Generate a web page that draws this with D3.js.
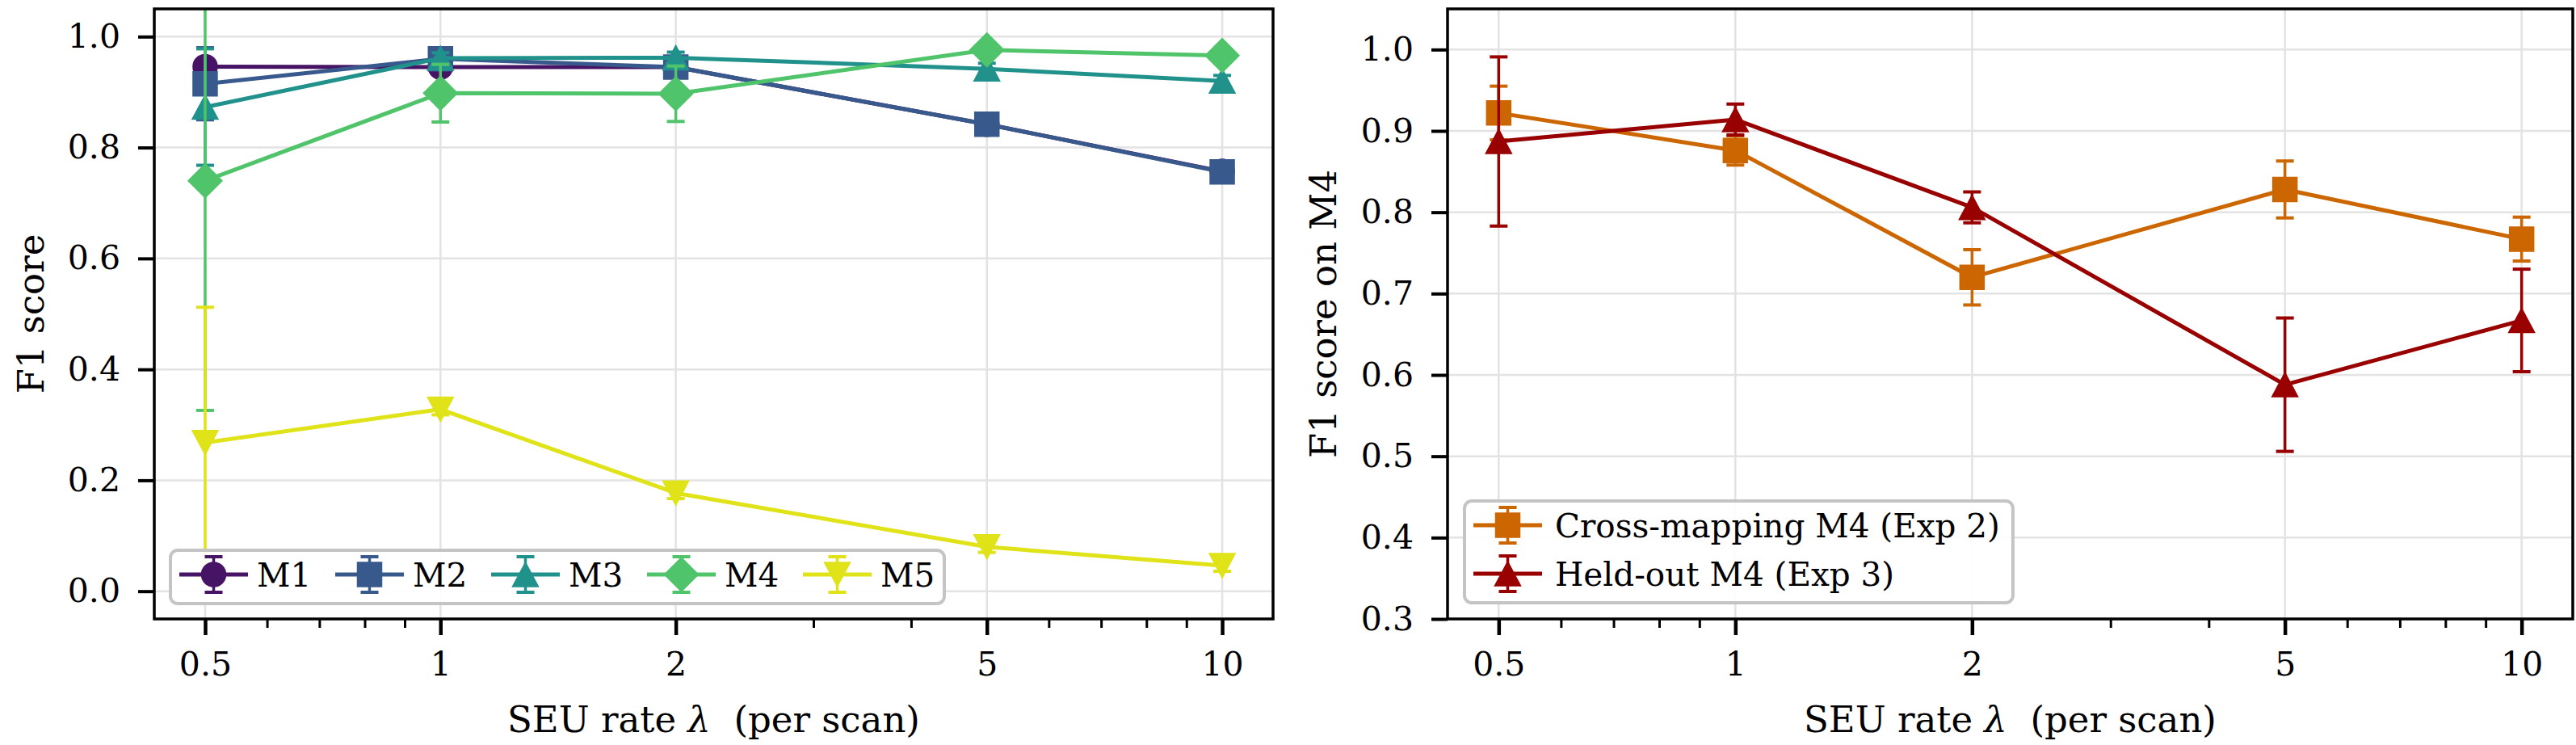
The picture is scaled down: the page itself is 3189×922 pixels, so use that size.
<!DOCTYPE html>
<html>
<head>
<meta charset="UTF-8">
<title></title>
<style>
  body { margin: 0; background: #fff; }
  text { font-family: "DejaVu Serif", serif; fill: #000; }
</style>
</head>
<body>
<script src="https://d3js.org/d3.v7.min.js"></script>
<script>
var width = 3189, height = 922;

// ---- data ----
var rates = [0.5, 1, 2, 5, 10];
var rateLabels = ["0.5", "1", "2", "5", "10"];
var minorRates = [0.6, 0.7, 0.8, 0.9, 3, 4, 6, 7, 8, 9];
var leftYTicks = [0.0, 0.2, 0.4, 0.6, 0.8, 1.0];
var rightYTicks = [0.3, 0.4, 0.5, 0.6, 0.7, 0.8, 0.9, 1.0];

var modelNames = ["M1", "M2", "M3", "M4", "M5"];
var m1 = [0.946, 0.945, 0.945, 0.842, 0.757];
var m1Err = [0, 0, 0, 0, 0];
var m2 = [0.915, 0.960, 0.945, 0.842, 0.756];
var m2Err = [0.065, 0.01, 0.01, 0.01, 0.01];
var m3 = [0.873, 0.961, 0.962, 0.942, 0.920];
var m3Err = [0.105, 0.01, 0.01, 0.01, 0.01];
var m4 = [0.740, 0.898, 0.897, 0.976, 0.966];
var m4Err = [0.414, 0.052, 0.050, 0.01, 0.01];
var m5 = [0.268, 0.328, 0.177, 0.080, 0.046];
var m5Err = [0.244, 0.01, 0.01, 0.01, 0.01];

var expNames = ["Cross-mapping M4 (Exp 2)", "Held-out M4 (Exp 3)"];
var cross = [0.922, 0.876, 0.720, 0.828, 0.767];
var crossErr = [0.033, 0.018, 0.034, 0.035, 0.027];
var held = [0.887, 0.914, 0.806, 0.588, 0.667];
var heldErr = [0.104, 0.019, 0.019, 0.082, 0.063];

// ---- styles ----
var viridisT = [0.05, 0.275, 0.5, 0.725, 0.95];
var leftSeries = [
  {name: modelNames[0], y: m1, err: m1Err, shape: "circle"},
  {name: modelNames[1], y: m2, err: m2Err, shape: "square"},
  {name: modelNames[2], y: m3, err: m3Err, shape: "triUp"},
  {name: modelNames[3], y: m4, err: m4Err, shape: "diamond"},
  {name: modelNames[4], y: m5, err: m5Err, shape: "triDown"}
];
leftSeries.forEach(function(s, i) { s.color = d3.interpolateViridis(viridisT[i]); });
var rightSeries = [
  {name: expNames[0], y: cross, err: crossErr, shape: "square", color: "#cc6600"},
  {name: expNames[1], y: held, err: heldErr, shape: "triUp", color: "#990000"}
];

var svg = d3.select("body").append("svg")
  .attr("width", width)
  .attr("height", height);

function markerPath(shape) {
  if (shape === "circle") return "M-15,0a15,15 0 1,0 30,0a15,15 0 1,0 -30,0Z";
  if (shape === "square") return "M-15,-15H15V15H-15Z";
  if (shape === "triUp") return "M0,-15L16,15H-16Z";
  if (shape === "triDown") return "M0,15L16,-15H-16Z";
  if (shape === "diamond") return "M0,-21L21,0L0,21L-21,0Z";
}

function drawPanel(id, x0, x1, yDomain, yTicks, series, yLabel, yLabelX) {
  var y0 = 11, y1 = 766;
  var pad = Math.pow(20, 0.05);
  var x = d3.scaleLog().domain([0.5 / pad, 10 * pad]).range([x0, x1]);
  var y = d3.scaleLinear().domain(yDomain).range([y1, y0]);
  var g = svg.append("g");

  svg.append("clipPath").attr("id", id)
    .append("rect").attr("x", x0).attr("y", y0).attr("width", x1 - x0).attr("height", y1 - y0);

  // grid
  g.selectAll(".gx").data(rates).enter().append("line")
    .attr("x1", d => x(d)).attr("x2", d => x(d)).attr("y1", y0).attr("y2", y1)
    .attr("stroke", "#e3e3e3").attr("stroke-width", 2.5);
  g.selectAll(".gy").data(yTicks).enter().append("line")
    .attr("x1", x0).attr("x2", x1).attr("y1", d => y(d)).attr("y2", d => y(d))
    .attr("stroke", "#e3e3e3").attr("stroke-width", 2.5);

  // series
  var plot = g.append("g").attr("clip-path", "url(#" + id + ")");
  var line = d3.line().x((d, i) => x(rates[i])).y(d => y(d));
  series.forEach(function(s) {
    var sg = plot.append("g");
    s.y.forEach(function(v, i) {
      var cx = x(rates[i]), lo = y(v - s.err[i]), hi = y(v + s.err[i]);
      sg.append("line").attr("x1", cx).attr("x2", cx).attr("y1", lo).attr("y2", hi)
        .attr("stroke", s.color).attr("stroke-width", 3.5);
      [lo, hi].forEach(function(cy) {
        sg.append("line").attr("x1", cx - 11).attr("x2", cx + 11).attr("y1", cy).attr("y2", cy)
          .attr("stroke", s.color).attr("stroke-width", 4);
      });
    });
    sg.append("path").attr("d", line(s.y)).attr("fill", "none")
      .attr("stroke", s.color).attr("stroke-width", 5).attr("stroke-linejoin", "round");
    sg.selectAll(".mk").data(s.y).enter().append("path")
      .attr("d", markerPath(s.shape))
      .attr("transform", (d, i) => "translate(" + x(rates[i]) + "," + y(d) + ")")
      .attr("fill", s.color).attr("stroke", s.color).attr("stroke-width", 1.5);
  });

  // axes
  var xAxis = g.append("g").attr("transform", "translate(0," + y1 + ")")
    .call(d3.axisBottom(x).tickValues(rates).tickFormat((d, i) => rateLabels[i])
      .tickSizeInner(20).tickSizeOuter(0).tickPadding(21));
  var xMinor = g.append("g").attr("transform", "translate(0," + y1 + ")")
    .call(d3.axisBottom(x).tickValues(minorRates).tickFormat("").tickSizeInner(11).tickSizeOuter(0));
  var yAxis = g.append("g").attr("transform", "translate(" + x0 + ",0)")
    .call(d3.axisLeft(y).tickValues(yTicks).tickFormat(d3.format(".1f"))
      .tickSizeInner(20).tickSizeOuter(0).tickPadding(22));
  [xAxis, xMinor, yAxis].forEach(function(a) {
    a.select(".domain").remove();
    a.selectAll("text").attr("font-size", 41).attr("font-family", "DejaVu Serif");
  });
  xAxis.selectAll("line").attr("stroke-width", 4.5);
  yAxis.selectAll("line").attr("stroke-width", 4);
  xMinor.selectAll("line").attr("stroke-width", 3);

  g.append("rect").attr("x", x0).attr("y", y0).attr("width", x1 - x0).attr("height", y1 - y0)
    .attr("fill", "none").attr("stroke", "#000").attr("stroke-width", 3.5);

  // labels
  var xl = g.append("text").attr("x", (x0 + x1) / 2).attr("y", 906)
    .attr("text-anchor", "middle").attr("font-size", 45).attr("xml:space", "preserve");
  xl.append("tspan").text("SEU rate ");
  xl.append("tspan").attr("font-style", "italic").text("λ");
  xl.append("tspan").text("  (per scan)");
  g.append("text").attr("transform", "translate(" + yLabelX + "," + ((y0 + y1) / 2) + ") rotate(-90)")
    .attr("text-anchor", "middle").attr("font-size", 45).text(yLabel);

  return g;
}

function drawHandle(g, s, hx, cy) {
  g.append("line").attr("x1", hx).attr("x2", hx + 85).attr("y1", cy).attr("y2", cy)
    .attr("stroke", s.color).attr("stroke-width", 5);
  var mx = hx + 42.5;
  g.append("line").attr("x1", mx).attr("x2", mx).attr("y1", cy - 22).attr("y2", cy + 22)
    .attr("stroke", s.color).attr("stroke-width", 3.5);
  [cy - 22, cy + 22].forEach(function(c) {
    g.append("line").attr("x1", mx - 11).attr("x2", mx + 11).attr("y1", c).attr("y2", c)
      .attr("stroke", s.color).attr("stroke-width", 4);
  });
  g.append("path").attr("d", markerPath(s.shape)).attr("transform", "translate(" + mx + "," + cy + ")")
    .attr("fill", s.color).attr("stroke", s.color).attr("stroke-width", 1.5);
}

// left panel
var gl = drawPanel("clipL", 191, 1576, [-0.05, 1.05], leftYTicks, leftSeries, "F1 score", 54);
var legL = gl.append("g");
legL.append("rect").attr("x", 211).attr("y", 681).attr("width", 958).attr("height", 66).attr("rx", 9)
  .attr("fill", "#fff").attr("fill-opacity", 0.9).attr("stroke", "#c4c4c4").attr("stroke-width", 4);
leftSeries.forEach(function(s, i) {
  var lx = 222 + i * 193;
  drawHandle(legL, s, lx, 711);
  legL.append("text").attr("x", lx + 96).attr("y", 711).attr("dy", "0.36em")
    .attr("font-size", 40.5).text(s.name);
});

// right panel
var gr = drawPanel("clipR", 1792, 3185, [0.3, 1.05], rightYTicks, rightSeries, "F1 score on M4", 1654);
var legR = gr.append("g");
var boxR = legR.append("rect").attr("x", 1813).attr("y", 620).attr("height", 126).attr("rx", 9)
  .attr("fill", "#fff").attr("fill-opacity", 0.9).attr("stroke", "#c4c4c4").attr("stroke-width", 4);
var maxW = 0;
rightSeries.forEach(function(s, i) {
  var cy = 650 + i * 60;
  drawHandle(legR, s, 1824, cy);
  var t = legR.append("text").attr("x", 1925).attr("y", cy).attr("dy", "0.36em")
    .attr("font-size", 40.5).text(s.name);
  maxW = Math.max(maxW, t.node().getComputedTextLength());
});
boxR.attr("width", 1925 + maxW + 16 - 1813);
</script>
</body>
</html>
